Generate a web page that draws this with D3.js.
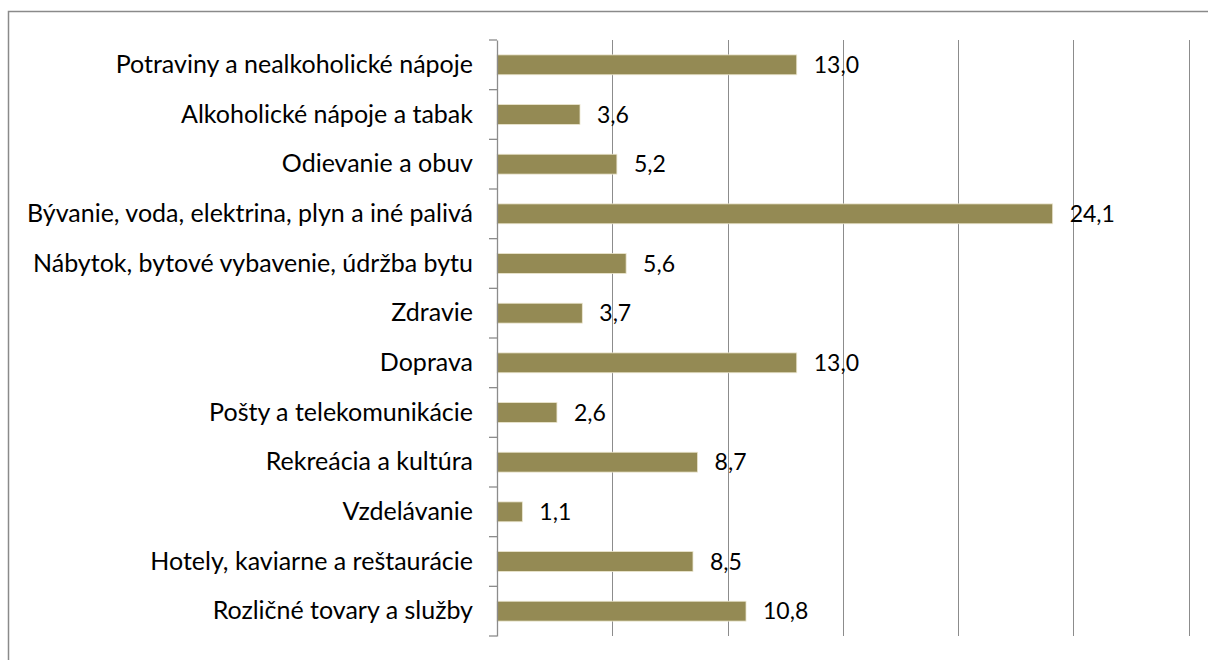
<!DOCTYPE html>
<html><head><meta charset="utf-8">
<script src="https://cdn.jsdelivr.net/npm/d3@7"></script>
<style>
html,body{margin:0;padding:0;background:#fff;}
svg{display:block;}
text{font-family:Lato, "Open Sans", sans-serif;}
</style></head>
<body>
<svg id="chart" width="1208" height="660"></svg>
<script>
const categories = [
  "Potraviny a nealkoholické nápoje",
  "Alkoholické nápoje a tabak",
  "Odievanie a obuv",
  "Bývanie, voda, elektrina, plyn a iné palivá",
  "Nábytok, bytové vybavenie, údržba bytu",
  "Zdravie",
  "Doprava",
  "Pošty a telekomunikácie",
  "Rekreácia a kultúra",
  "Vzdelávanie",
  "Hotely, kaviarne a reštaurácie",
  "Rozličné tovary a služby"
];
const values = [13.0, 3.6, 5.2, 24.1, 5.6, 3.7, 13.0, 2.6, 8.7, 1.1, 8.5, 10.8];
const xTicks = [0, 5, 10, 15, 20, 25, 30];

(function () {
const svg = d3.select("#chart");
svg.append("rect").attr("x", 8.5).attr("y", 11.5).attr("width", 1230).attr("height", 700)
  .attr("fill", "#fff").attr("stroke", "#8a8a8a").attr("stroke-width", 1.5);

const pL = 497, pR = 1188.7, pT = 40, pB = 636;
const x = d3.scaleLinear().domain([0, 30]).range([pL, pR]);
const y = d3.scaleBand().domain(categories).range([pT, pB]).paddingInner(0.6).paddingOuter(0.3);
const yb = d3.scaleBand().domain(categories).range([pT, pB]);

svg.append("g").selectAll("line").data(xTicks.slice(1)).join("line")
  .attr("x1", d => Math.round(x(d)) + 0.5).attr("x2", d => Math.round(x(d)) + 0.5)
  .attr("y1", pT).attr("y2", pB)
  .attr("stroke", "#8c8c8c").attr("stroke-width", 1);

svg.append("g").selectAll("rect").data(values).join("rect")
  .attr("x", x(0)).attr("y", (d, i) => y(categories[i]))
  .attr("width", d => x(d) - x(0)).attr("height", y.bandwidth())
  .attr("fill", "#948a54").attr("stroke", "#ebe6cf").attr("stroke-width", 0.8);

const yAxis = d3.axisLeft(yb).tickSize(0).tickPadding(24);
const ga = svg.append("g").attr("transform", `translate(${pL},0)`).call(yAxis);
ga.select(".domain").attr("stroke", "#8c8c8c").attr("stroke-width", 1.3);
ga.selectAll(".tick text").attr("font-size", 25).attr("fill", "#000")
  .attr("font-family", "Lato").attr("dy", "0.33em");
const bounds = d3.range(categories.length + 1).map(i => pT + i * yb.step());
ga.selectAll("line.bnd").data(bounds).join("line").attr("class", "bnd")
  .attr("x1", -8).attr("x2", 0).attr("y1", d => d).attr("y2", d => d)
  .attr("stroke", "#8c8c8c").attr("stroke-width", 1.3);

svg.append("g").selectAll("text").data(values).join("text")
  .attr("x", d => x(d) + 17).attr("y", (d, i) => yb(categories[i]) + yb.bandwidth() / 2)
  .attr("dy", "0.35em").attr("font-size", 23).attr("fill", "#000")
  .text(d => d.toFixed(1).replace(".", ","));
})();
</script>
</body></html>
